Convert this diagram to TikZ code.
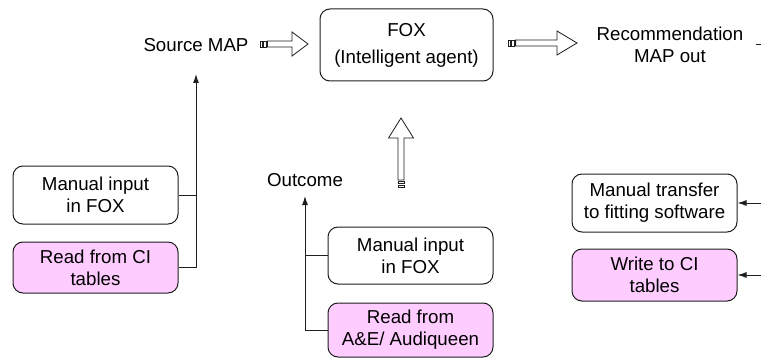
\documentclass[tikz,border=0pt]{standalone}
\usepackage{fontspec}
\setmainfont{Liberation Sans}
\usetikzlibrary{arrows.meta}
\definecolor{pinkfill}{RGB}{255,204,255}
\definecolor{edge}{RGB}{30,30,30}
\tikzset{
  box/.style={draw=edge, line width=1pt, rounded corners=10pt, fill=white, align=center,
    font=\fontsize{18.7}{22}\selectfont, inner sep=0pt},
  pinkbox/.style={box, fill=pinkfill},
  lbl/.style={align=center, font=\fontsize{18.7}{22}\selectfont, inner sep=0pt},
  conn/.style={draw=edge, line width=1pt},
  arr/.style={conn, -{Latex[length=9pt,width=6pt]}},
  hollow/.style={draw=edge, line width=0.8pt, fill=white},
}
\begin{document}
\begin{tikzpicture}[x=1pt,y=-1pt]
\useasboundingbox (0,0) rectangle (761,361);
% nodes
\node[box, minimum width=173pt, minimum height=72pt] (fox) at (406.5,45) {FOX\\[5pt](Intelligent agent)};
\node[lbl] (src) at (196,45) {Source MAP};
\node[lbl] (rec) at (670,45) {Recommendation\\MAP out};
\node[box, minimum width=165pt, minimum height=58pt] (man1) at (95.5,195) {Manual input\\in FOX};
\node[pinkbox, minimum width=165pt, minimum height=51pt] (read1) at (95.5,267.5) {Read from CI\\tables};
\node[lbl] (out) at (305,180) {Outcome};
\node[box, minimum width=165pt, minimum height=57pt] (man2) at (410.5,255.5) {Manual input\\in FOX};
\node[pinkbox, minimum width=165pt, minimum height=54pt] (read2) at (410.5,330) {Read from\\A\&E/ Audiqueen};
\node[box, minimum width=165pt, minimum height=58pt] (man3) at (654.5,203) {Manual transfer\\to fitting software};
\node[pinkbox, minimum width=165pt, minimum height=52pt] (write) at (654.5,275) {Write to CI\\tables};
% coordinates
\coordinate (j1) at (196,267.5);
\coordinate (t1) at (196,74);
\coordinate (j2) at (305,330);
\coordinate (t2) at (305,196);
\coordinate (r1) at (761,203);
\coordinate (r2) at (761,275);
\coordinate (r0a) at (756,45);
\coordinate (r0b) at (761,45);
% connectors left group
\draw[conn] (read1.east) -- (j1);
\draw[arr] (j1) -- (t1);
\draw[conn] (man1.east) -- (man1.east -| j1);
% connectors middle group
\draw[conn] (read2.west) -- (j2);
\draw[arr] (j2) -- (t2);
\draw[conn] (man2.west) -- (man2.west -| j2);
% right incoming
\draw[arr] (r1) -- (man3.east);
\draw[arr] (r2) -- (write.east);
\draw[conn] (r0a) -- (r0b);
% hollow striped arrow: Source MAP -> FOX
\draw[hollow] (260,41) rectangle (262.3,47);
\draw[hollow] (263.8,41) rectangle (266.1,47);
\draw[hollow] (267.5,41) -- (292,41) -- (292,32) -- (308,44) -- (292,56) -- (292,47) -- (267.5,47) -- cycle;
% hollow striped arrow: FOX -> Recommendation
\draw[hollow] (508,40) rectangle (510.3,46);
\draw[hollow] (511.8,40) rectangle (514.1,46);
\draw[hollow] (515.6,40) -- (557,40) -- (557,31) -- (577,43) -- (557,55) -- (557,46) -- (515.6,46) -- cycle;
% hollow striped arrow: up into FOX
\draw[hollow] (398,187.5) rectangle (404,185.2);
\draw[hollow] (398,183.7) rectangle (404,181.4);
\draw[hollow] (398,179.9) -- (398,138) -- (388.5,138) -- (401,118) -- (413.5,138) -- (404,138) -- (404,179.9) -- cycle;
\end{tikzpicture}
\end{document}
